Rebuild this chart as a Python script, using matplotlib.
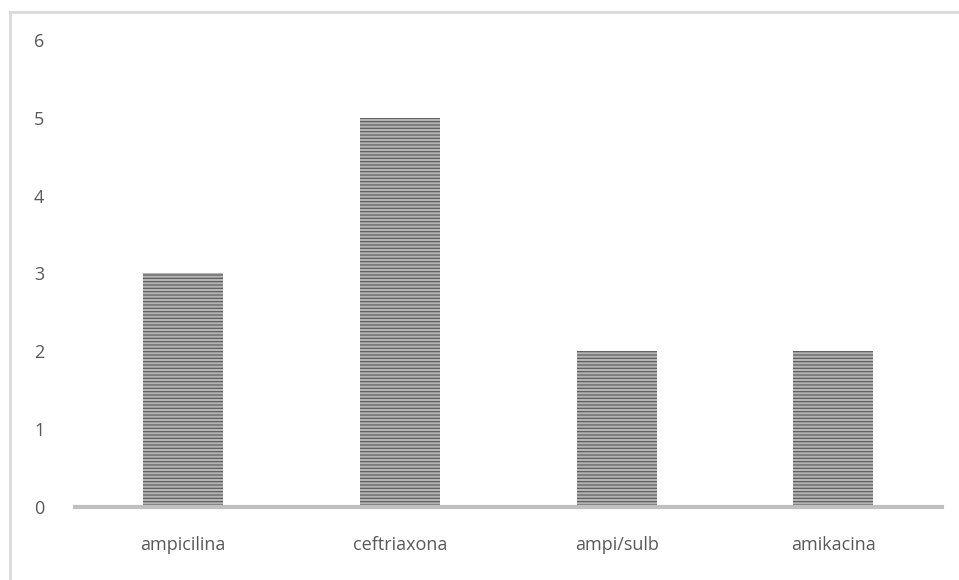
import matplotlib.pyplot as plt
from matplotlib.lines import Line2D

drugs = ["ampicilina", "ceftriaxona", "ampi/sulb", "amikacina"]
counts = [3, 5, 2, 2]
y_ticks = [0, 1, 2, 3, 4, 5, 6]

plt.rcParams["font.family"] = ["Open Sans", "DejaVu Sans"]
plt.rcParams["hatch.linewidth"] = 0.9
plt.rcParams["hatch.color"] = "#606060"

fig = plt.figure(figsize=(9.59, 5.80), dpi=100)
ax = fig.add_axes([0.078, 0.126, 0.904, 0.805])

x = list(range(len(drugs)))
ax.bar(x, counts, width=0.37, color="#b4b4b4", hatch="-----",
       edgecolor="#606060", linewidth=0)

ax.set_xlim(-0.5, len(drugs) - 0.5)
ax.set_ylim(0, 6)
ax.set_xticks(x)
ax.set_xticklabels(drugs)
ax.set_yticks(y_ticks)

for side in ["top", "right", "left"]:
    ax.spines[side].set_visible(False)
ax.spines["bottom"].set_color("#c0c0c0")
ax.spines["bottom"].set_linewidth(3)
ax.tick_params(axis="both", length=0, colors="#595959", labelsize=13)
ax.tick_params(axis="x", pad=21)
ax.tick_params(axis="y", pad=22)

# chart frame
fig.add_artist(Line2D([0.0105, 1.0], [0.979, 0.979], color="#d9d9d9", lw=2))
fig.add_artist(Line2D([0.0105, 0.0105], [0.0, 0.979], color="#d9d9d9", lw=2))

fig.savefig("out.png", dpi=100)
